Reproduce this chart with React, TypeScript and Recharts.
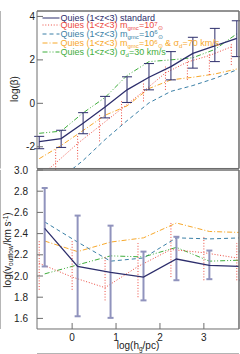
import React from 'react';
import { LineChart, Line, XAxis, YAxis, ErrorBar, Legend, Label } from 'recharts';

const FONT = '"Liberation Sans", Arial, Helvetica, sans-serif';
const NAVY = '#2d2e6c';
const RED = '#ec4a3f';
const TEAL = '#3a7fa6';
const ORANGE = '#f7a82b';
const GREEN = '#3fae3c';
const BAR_LIGHT = '#9093bd';
const AXIS = '#6e6e6e';

// ---------- axes ----------
const X_DOMAIN = [-0.8, 3.8];
const X_MAJOR = [0, 1, 2, 3];
const TOP_Y_DOMAIN = [-3, 4.25];
const TOP_Y_MAJOR = [-2, 0, 2, 4];
const BOT_Y_DOMAIN = [1.5, 3.0];
const BOT_Y_MAJOR = [1.6, 1.8, 2.0, 2.2, 2.4, 2.6, 2.8, 3.0];

function tickSteps(a: number, b: number, s: number) {
  const out: number[] = [];
  const n = Math.round((b - a) / s);
  for (let i = 0; i <= n; i++) out.push(Math.round((a + i * s) * 1000) / 1000);
  return out;
}
const X_MINOR = tickSteps(-0.8, 3.8, 0.1);
const TOP_Y_MINOR = tickSteps(-3, 4, 0.5);
const BOT_Y_MINOR = tickSteps(1.5, 3.0, 0.05);

// ---------- top panel: log(beta) ----------
const topX = [-0.75, -0.25, 0.25, 0.75, 1.25, 1.75, 2.25, 2.75, 3.25, 3.75];
const topStandard = [-1.76, -1.62, -0.92, -0.17, 0.62, 1.2, 1.69, 2.3, 2.64, 2.99];
const topStandardErrLow = [0.33, 0.41, 0.48, 0.5, 0.58, 0.58, 0.61, 0.68, 0.72, 0.84];
const topStandardErrHigh = [0.24, 0.38, 0.49, 0.49, 0.6, 0.63, 0.69, 0.74, 0.81, 0.81];
const topGmc6 = [-4.2, -3.44, -2.63, -1.67, -0.8, 0.02, 0.55, 0.82, 1.15, 1.54];
const topGmc6Sig70 = [-2.55, -1.94, -1.25, -0.55, -0.12, 0.68, 1.08, 1.2, 1.35, 1.58];
const topSig30 = [-1.38, -1.28, -0.44, 0.27, 1.28, 1.92, 2.0, 2.1, 2.48, 3.2];
const topRedX = [-0.875, -0.375, 0.125, 0.625, 1.125, 1.625, 2.125, 2.625, 3.125, 3.625];
const topGmc7 = [-3.6, -2.75, -1.85, -1.05, -0.25, 0.55, 1.4, 1.9, 2.2, 2.6];
const topGmc7ErrLow = [0.5, 0.45, 0.73, 0.7, 0.73, 0.46, 0.78, 0.82, 0.89, 0.83];
const topGmc7ErrHigh = [0.5, 0.62, 0.41, 0.53, 0.41, 0.45, 0.29, 0.1, 0.1, 0.16];

// ---------- bottom panel: log(v_outflow) ----------
const botX = [-0.625, 0.125, 0.875, 1.625, 2.375, 3.125, 3.875];
const botStandard = [2.45, 2.09, 2.035, 1.99, 2.16, 2.1, 2.09];
const botStandardErrLow = [0.36, 0.47, 0.43, 0.22, 0.2, 0.13, 0.13];
const botStandardErrHigh = [0.38, 0.48, 0.44, 0.24, 0.21, 0.14, 0.14];
const botGmc6 = [2.51, 2.32, 2.14, 2.17, 2.36, 2.35, 2.36];
const botGmc6Sig70 = [2.33, 2.23, 2.32, 2.36, 2.5, 2.42, 2.41];
const botSig30 = [2.02, 2.105, 2.19, 2.18, 2.27, 2.14, 2.15];
const botRedX = [-0.75, 0.0, 0.75, 1.5, 2.25, 3.0, 3.75];
const botGmc7 = [2.12, 1.99, 1.89, 2.09, 2.25, 2.22, 2.17];
const botGmc7ErrLow = [0.25, 0.12, 0.12, 0.29, 0.26, 0.26, 0.21];
const botGmc7ErrHigh = [0.21, 0.34, 0.29, 0.22, 0.25, 0.15, 0.14];

type Row = { x: number; y: number; err?: [number, number] };
function rows(xs: number[], ys: number[], lo?: number[], hi?: number[]): Row[] {
  return xs.map((x, i) => ({ x, y: ys[i], err: lo && hi ? [lo[i], hi[i]] : undefined }));
}

const DASH_RED = '1 1.8';
const DASH_TEAL = '4 3';
const DASH_ORANGE = '5 2 1 2';
const DASH_GREEN = '5 2 1 2 1 2';

// ---------- legend ----------
const PREFIX = 'Quies (1<z<3) ';
const sub = (t: string) => (
  <span style={{ fontSize: 6, lineHeight: '5px', display: 'inline-block', position: 'relative', top: 2 }}>{t}</span>
);
const sup = (t: string) => (
  <span style={{ fontSize: 6, lineHeight: '5px', display: 'inline-block', position: 'relative', top: -2.5 }}>{t}</span>
);
const legendEntries = [
  { color: NAVY, dash: undefined as string | undefined, label: <>{PREFIX}standard</> },
  { color: RED, dash: DASH_RED, label: <>{PREFIX}m{sub('gmc')}=10{sup('7')}{sub('⊙')}</> },
  { color: TEAL, dash: DASH_TEAL, label: <>{PREFIX}m{sub('gmc')}=10{sup('6')}{sub('⊙')}</> },
  {
    color: ORANGE,
    dash: DASH_ORANGE,
    label: <>{PREFIX}m{sub('gmc')}=10{sup('6')}{sub('⊙')} &amp; σ{sub('d')}=70 km/s</>,
  },
  { color: GREEN, dash: DASH_GREEN, label: <>{PREFIX}σ{sub('d')}=30 km/s</> },
];
const LEGEND_ROW_TOPS = [0.5, 8.3, 16.8, 26.2, 34.6];

const renderLegend = () => (
  <div style={{ position: 'relative', fontFamily: FONT, fontSize: 9, lineHeight: '8px' }}>
    {legendEntries.map((e, i) => (
      <div
        key={i}
        style={{
          position: 'absolute',
          left: 0,
          top: LEGEND_ROW_TOPS[i],
          height: 8,
          display: 'flex',
          alignItems: 'center',
          whiteSpace: 'nowrap',
        }}
      >
        <svg width={18} height={8} style={{ display: 'block' }}>
          <line x1={0.5} x2={17.5} y1={4} y2={4} stroke={e.color} strokeWidth={1} strokeDasharray={e.dash} />
        </svg>
        <span style={{ marginLeft: 1, color: e.color }}>{e.label}</span>
      </div>
    ))}
  </div>
);

// ---------- axes builder ----------
const tickStyle = { fill: '#222', fontSize: 10, fontFamily: FONT };
const THIN = 0.001; // edge axes need a non-zero size to be drawn

function frameAxes(opts: {
  yDomain: number[];
  yMajor: number[];
  yMinor: number[];
  showX: boolean;
  yFormat: (v: number) => string;
  yTickMargin: number;
  yTitle: React.ReactNode;
  xTitle?: React.ReactNode;
}) {
  const common = { stroke: AXIS, interval: 0 as const, allowDataOverflow: true };
  return [
    <XAxis key="xbm" xAxisId="bm" dataKey="x" type="number" domain={X_DOMAIN} ticks={X_MINOR} orientation="bottom" height={THIN} tick={false} tickSize={-2.5} {...common} />,
    <XAxis key="xt" xAxisId="t" dataKey="x" type="number" domain={X_DOMAIN} ticks={X_MAJOR} orientation="top" height={THIN} tick={false} tickSize={-6} {...common} />,
    <XAxis key="xtm" xAxisId="tm" dataKey="x" type="number" domain={X_DOMAIN} ticks={X_MINOR} orientation="top" height={THIN} tick={false} tickSize={-2.5} {...common} />,
    <XAxis
      key="xb"
      xAxisId="b"
      dataKey="x"
      type="number"
      domain={X_DOMAIN}
      ticks={X_MAJOR}
      orientation="bottom"
      height={opts.showX ? 25 : THIN}
      tick={opts.showX ? tickStyle : false}
      tickSize={-6}
      tickMargin={10.5}
      {...common}
    >
      {opts.xTitle ? <Label content={() => opts.xTitle as any} /> : null}
    </XAxis>,
    <YAxis key="ylm" yAxisId="lm" type="number" domain={opts.yDomain} ticks={opts.yMinor} orientation="left" width={THIN} tick={false} tickSize={-3} {...common} />,
    <YAxis key="yr" yAxisId="r" type="number" domain={opts.yDomain} ticks={opts.yMajor} orientation="right" width={THIN} tick={false} tickSize={-6} {...common} />,
    <YAxis key="yrm" yAxisId="rm" type="number" domain={opts.yDomain} ticks={opts.yMinor} orientation="right" width={THIN} tick={false} tickSize={-3} {...common} />,
    <YAxis
      key="yl"
      yAxisId="l"
      type="number"
      domain={opts.yDomain}
      ticks={opts.yMajor}
      orientation="left"
      width={37}
      tick={tickStyle}
      tickSize={-6}
      tickMargin={opts.yTickMargin}
      tickFormatter={opts.yFormat}
      {...common}
    >
      <Label content={() => opts.yTitle as any} />
    </YAxis>,
  ];
}

// bottom chart sits at page y = 160
const BOT_TOP = 160;

const topYTitle = (
  <text x={18} y={89} transform="rotate(-90 18 89)" textAnchor="middle" fontSize={10} fontFamily={FONT} fill="#222">
    log(β)
  </text>
);
const botYTitle = (
  <text x={11} y={250 - BOT_TOP} transform={`rotate(-90 11 ${250 - BOT_TOP})`} textAnchor="middle" fontSize={10} fontFamily={FONT} fill="#222">
    log(v
    <tspan fontSize={6.5} dy={2}>outflow</tspan>
    <tspan dy={-2}>/km s</tspan>
    <tspan fontSize={6.5} dy={-3.5}>-1</tspan>
    <tspan dy={3.5}>)</tspan>
  </text>
);
const xTitle = (
  <text x={138} y={349 - BOT_TOP} textAnchor="middle" fontSize={10} fontFamily={FONT} fill="#222">
    log(h
    <tspan fontSize={6.5} dy={2}>g</tspan>
    <tspan dy={-2}>/pc)</tspan>
  </text>
);

export default function App() {
  const L = { xAxisId: 'b', yAxisId: 'l', dot: false as const, isAnimationActive: false, dataKey: 'y' };
  return (
    <div style={{ position: 'absolute', left: 0, top: 0, width: 240, height: 354, background: '#fff' }}>
      <div style={{ position: 'absolute', left: 0, top: 0 }}>
        <LineChart width={240} height={170} margin={{ top: 11, right: 1, bottom: 1.5, left: 0 }} style={{ fontFamily: FONT }}>
          {frameAxes({
            yDomain: TOP_Y_DOMAIN,
            yMajor: TOP_Y_MAJOR,
            yMinor: TOP_Y_MINOR,
            showX: false,
            yFormat: (v) => String(v),
            yTickMargin: 8,
            yTitle: topYTitle,
          })}
          <Line {...L} data={rows(topX, topGmc6)} stroke={TEAL} strokeWidth={1} strokeDasharray={DASH_TEAL} />
          <Line {...L} data={rows(topX, topGmc6Sig70)} stroke={ORANGE} strokeWidth={1} strokeDasharray={DASH_ORANGE} />
          <Line {...L} data={rows(topX, topSig30)} stroke={GREEN} strokeWidth={1} strokeDasharray={DASH_GREEN} />
          <Line {...L} data={rows(topRedX, topGmc7, topGmc7ErrLow, topGmc7ErrHigh)} stroke={RED} strokeWidth={1} strokeDasharray={DASH_RED}>
            <ErrorBar dataKey="err" direction="y" width={0} stroke={RED} strokeWidth={1} strokeDasharray={DASH_RED} isAnimationActive={false} />
          </Line>
          <Line {...L} data={rows(topX, topStandard, topStandardErrLow, topStandardErrHigh)} stroke={NAVY} strokeWidth={1.3}>
            <ErrorBar dataKey="err" direction="y" width={5} stroke={NAVY} strokeWidth={1} isAnimationActive={false} />
          </Line>
          <Legend
            layout="vertical"
            align="center"
            verticalAlign="middle"
            content={renderLegend}
            wrapperStyle={{ position: 'absolute', left: 41.5, top: 13, width: 198, height: 44 }}
          />
        </LineChart>
      </div>
      <div style={{ position: 'absolute', left: 0, top: BOT_TOP }}>
        <LineChart width={240} height={354 - BOT_TOP} margin={{ top: 170 - BOT_TOP, right: 1, bottom: 0, left: 0 }} style={{ fontFamily: FONT }}>
          {frameAxes({
            yDomain: BOT_Y_DOMAIN,
            yMajor: BOT_Y_MAJOR,
            yMinor: BOT_Y_MINOR,
            showX: true,
            yFormat: (v) => v.toFixed(1),
            yTickMargin: 15,
            yTitle: botYTitle,
            xTitle: xTitle,
          })}
          <Line {...L} data={rows(botX, botGmc6)} stroke={TEAL} strokeWidth={1} strokeDasharray={DASH_TEAL} />
          <Line {...L} data={rows(botX, botGmc6Sig70)} stroke={ORANGE} strokeWidth={1} strokeDasharray={DASH_ORANGE} />
          <Line {...L} data={rows(botX, botSig30)} stroke={GREEN} strokeWidth={1} strokeDasharray={DASH_GREEN} />
          <Line {...L} data={rows(botRedX, botGmc7, botGmc7ErrLow, botGmc7ErrHigh)} stroke={RED} strokeWidth={1} strokeDasharray={DASH_RED}>
            <ErrorBar dataKey="err" direction="y" width={0} stroke={RED} strokeWidth={1} strokeDasharray={DASH_RED} isAnimationActive={false} />
          </Line>
          <Line {...L} data={rows(botX, botStandard, botStandardErrLow, botStandardErrHigh)} stroke={NAVY} strokeWidth={1.3}>
            <ErrorBar dataKey="err" direction="y" width={3} stroke={BAR_LIGHT} strokeWidth={2} isAnimationActive={false} />
          </Line>
        </LineChart>
      </div>
    </div>
  );
}
